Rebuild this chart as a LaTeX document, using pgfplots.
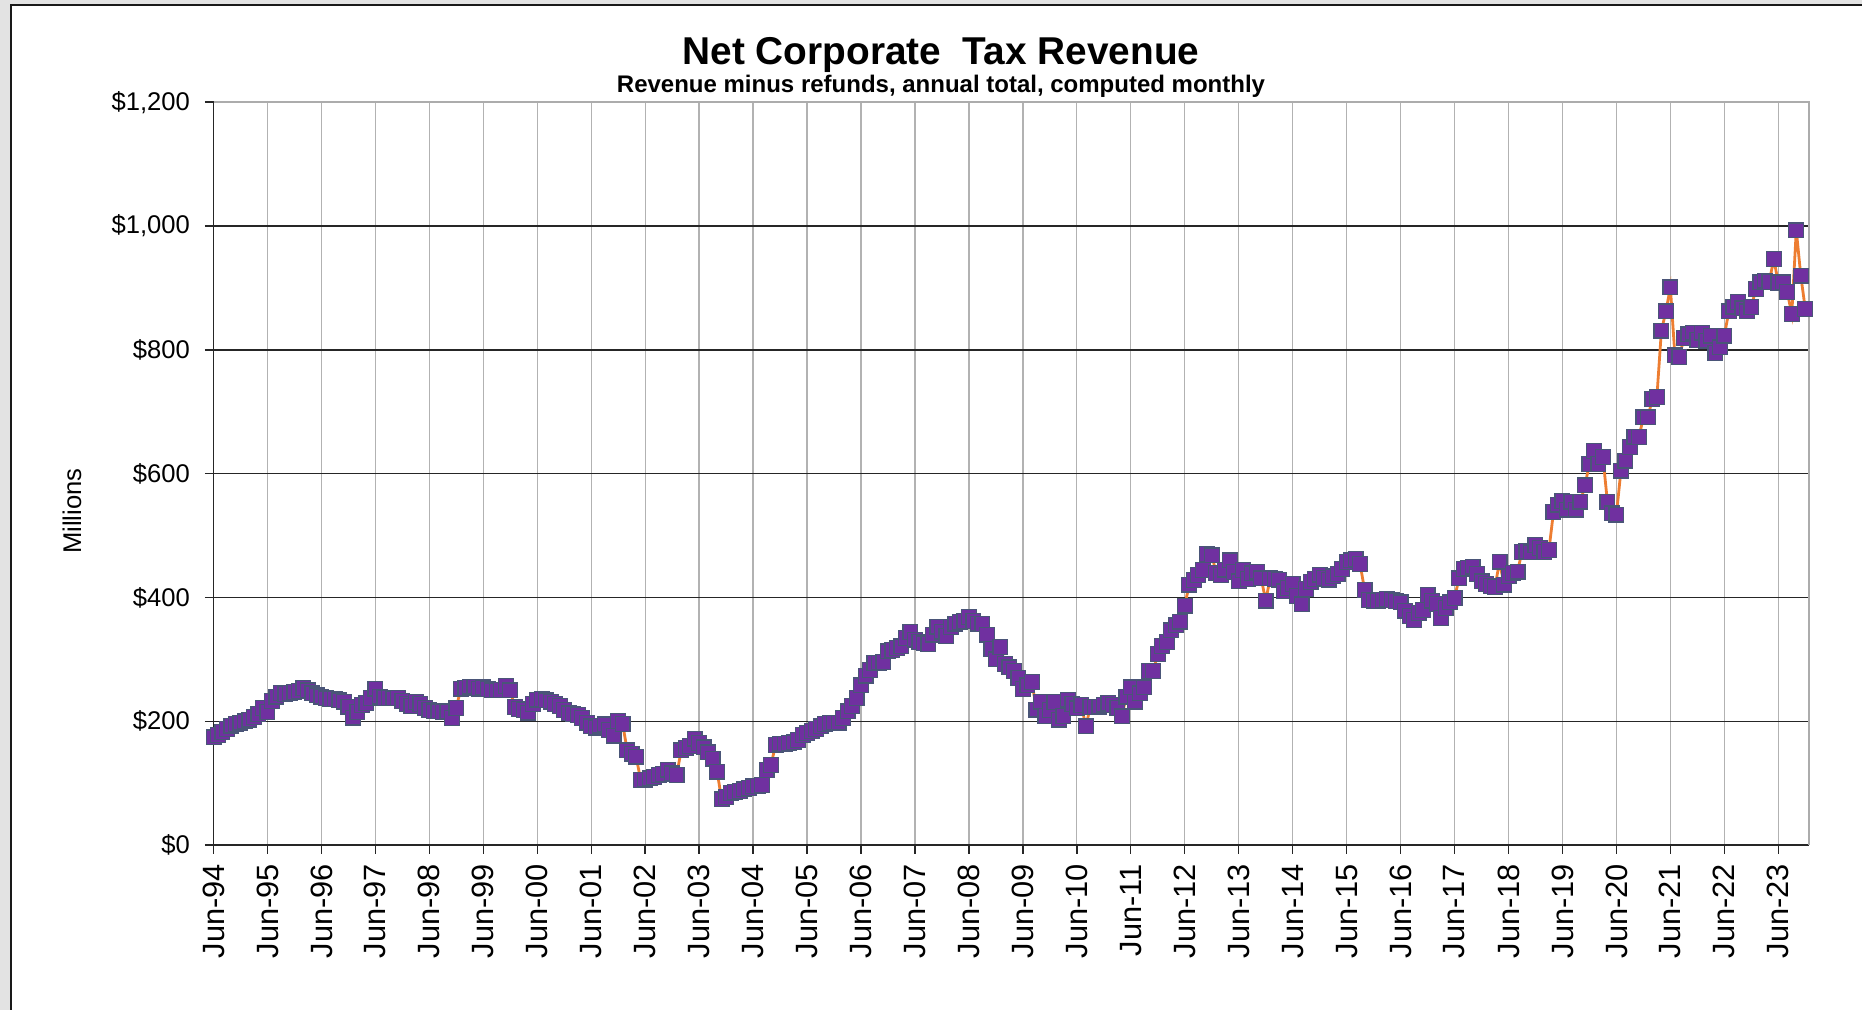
\documentclass[border=0pt]{standalone}
\usepackage{pgfplots}
\pgfplotsset{compat=1.18}
\usepackage{pgfplotstable}
\usepackage{fontspec}
\setmainfont{Liberation Sans}
\definecolor{mpurple}{HTML}{7030A0}
\definecolor{medge}{HTML}{4A5578}
\definecolor{morange}{HTML}{ED7D31}

\pgfplotstableread[row sep=\\]{
m v \\
0 174 \\ 1 178 \\ 2 183 \\ 3 188 \\ 4 193 \\ 5 196 \\ 6 198 \\ 7 200 \\ 8 203 \\ 9 207 \\ 10 212 \\ 11 222 \\
12 215 \\ 13 233 \\ 14 240 \\ 15 246 \\ 16 244 \\ 17 246 \\ 18 247 \\ 19 249 \\ 20 254 \\ 21 250 \\ 22 245 \\ 23 242 \\
24 240 \\ 25 237 \\ 26 236 \\ 27 236 \\ 28 234 \\ 29 232 \\ 30 224 \\ 31 206 \\ 32 215 \\ 33 226 \\ 34 230 \\ 35 238 \\
36 253 \\ 37 240 \\ 38 238 \\ 39 238 \\ 40 237 \\ 41 238 \\ 42 233 \\ 43 228 \\ 44 225 \\ 45 231 \\ 46 228 \\ 47 222 \\
48 218 \\ 49 216 \\ 50 216 \\ 51 215 \\ 52 216 \\ 53 205 \\ 54 222 \\ 55 253 \\ 56 254 \\ 57 256 \\ 58 256 \\ 59 253 \\
60 255 \\ 61 252 \\ 62 250 \\ 63 250 \\ 64 251 \\ 65 257 \\ 66 250 \\ 67 223 \\ 68 220 \\ 69 218 \\ 70 214 \\ 71 228 \\
72 235 \\ 73 236 \\ 74 234 \\ 75 232 \\ 76 228 \\ 77 225 \\ 78 218 \\ 79 213 \\ 80 212 \\ 81 210 \\ 82 205 \\ 83 198 \\
84 192 \\ 85 190 \\ 86 193 \\ 87 195 \\ 88 186 \\ 89 177 \\ 90 201 \\ 91 196 \\ 92 153 \\ 93 148 \\ 94 143 \\ 95 105 \\
96 106 \\ 97 108 \\ 98 110 \\ 99 113 \\ 100 115 \\ 101 122 \\ 102 116 \\ 103 113 \\ 104 153 \\ 105 157 \\ 106 160 \\ 107 172 \\
108 165 \\ 109 158 \\ 110 150 \\ 111 140 \\ 112 119 \\ 113 74 \\ 114 78 \\ 115 84 \\ 116 86 \\ 117 88 \\ 118 90 \\ 119 92 \\
120 95 \\ 121 96 \\ 122 97 \\ 123 121 \\ 124 130 \\ 125 162 \\ 126 164 \\ 127 163 \\ 128 165 \\ 129 166 \\ 130 170 \\ 131 178 \\
132 181 \\ 133 184 \\ 134 188 \\ 135 192 \\ 136 196 \\ 137 197 \\ 138 198 \\ 139 198 \\ 140 205 \\ 141 216 \\ 142 225 \\ 143 238 \\
144 258 \\ 145 274 \\ 146 283 \\ 147 294 \\ 148 295 \\ 149 296 \\ 150 313 \\ 151 315 \\ 152 318 \\ 153 321 \\ 154 335 \\ 155 344 \\
156 332 \\ 157 328 \\ 158 326 \\ 159 325 \\ 160 340 \\ 161 353 \\ 162 345 \\ 163 338 \\ 164 352 \\ 165 358 \\ 166 360 \\ 167 362 \\
168 369 \\ 169 362 \\ 170 358 \\ 171 357 \\ 172 340 \\ 173 317 \\ 174 300 \\ 175 320 \\ 176 293 \\ 177 287 \\ 178 281 \\ 179 270 \\
180 252 \\ 181 258 \\ 182 264 \\ 183 219 \\ 184 232 \\ 185 209 \\ 186 218 \\ 187 231 \\ 188 203 \\ 189 209 \\ 190 235 \\ 191 228 \\
192 221 \\ 193 226 \\ 194 192 \\ 195 223 \\ 196 223 \\ 197 224 \\ 198 227 \\ 199 230 \\ 200 226 \\ 201 222 \\ 202 208 \\ 203 240 \\
204 255 \\ 205 232 \\ 206 245 \\ 207 255 \\ 208 281 \\ 209 281 \\ 210 309 \\ 211 322 \\ 212 328 \\ 213 347 \\ 214 355 \\ 215 361 \\
216 387 \\ 217 421 \\ 218 428 \\ 219 436 \\ 220 444 \\ 221 470 \\ 222 468 \\ 223 440 \\ 224 436 \\ 225 445 \\ 226 460 \\ 227 441 \\
228 426 \\ 229 444 \\ 230 430 \\ 231 439 \\ 232 442 \\ 233 431 \\ 234 395 \\ 235 431 \\ 236 430 \\ 237 429 \\ 238 410 \\ 239 415 \\
240 422 \\ 241 402 \\ 242 389 \\ 243 414 \\ 244 425 \\ 245 430 \\ 246 437 \\ 247 432 \\ 248 429 \\ 249 434 \\ 250 438 \\ 251 446 \\
252 457 \\ 253 460 \\ 254 462 \\ 255 454 \\ 256 412 \\ 257 396 \\ 258 395 \\ 259 394 \\ 260 396 \\ 261 398 \\ 262 396 \\ 263 394 \\
264 392 \\ 265 379 \\ 266 370 \\ 267 364 \\ 268 375 \\ 269 380 \\ 270 404 \\ 271 395 \\ 272 390 \\ 273 367 \\ 274 383 \\ 275 392 \\
276 399 \\ 277 431 \\ 278 446 \\ 279 448 \\ 280 450 \\ 281 438 \\ 282 426 \\ 283 422 \\ 284 419 \\ 285 417 \\ 286 458 \\ 287 421 \\
288 434 \\ 289 440 \\ 290 442 \\ 291 474 \\ 292 475 \\ 293 473 \\ 294 485 \\ 295 480 \\ 296 474 \\ 297 477 \\ 298 538 \\ 299 550 \\
300 556 \\ 301 542 \\ 302 555 \\ 303 542 \\ 304 555 \\ 305 581 \\ 306 616 \\ 307 637 \\ 308 616 \\ 309 627 \\ 310 554 \\ 311 536 \\
312 534 \\ 313 605 \\ 314 621 \\ 315 643 \\ 316 660 \\ 317 659 \\ 318 691 \\ 319 691 \\ 320 721 \\ 321 724 \\ 322 831 \\ 323 862 \\
324 901 \\ 325 791 \\ 326 788 \\ 327 819 \\ 328 825 \\ 329 828 \\ 330 816 \\ 331 828 \\ 332 815 \\ 333 823 \\ 334 795 \\ 335 804 \\
336 823 \\ 337 862 \\ 338 870 \\ 339 877 \\ 340 867 \\ 341 862 \\ 342 869 \\ 343 898 \\ 344 909 \\ 345 912 \\ 346 910 \\ 347 947 \\
348 908 \\ 349 909 \\ 350 893 \\ 351 858 \\ 352 993 \\ 353 920 \\ 354 866 \\
}\datatable

\begin{document}
\begin{tikzpicture}
\fill[gray!22] (0,0) rectangle (931pt,505pt);
\fill[white] (5.4pt,0) rectangle (931pt,502.35pt);
\draw[black!90, line width=0.8pt] (5.4pt,0) -- (5.4pt,502.35pt) -- (931pt,502.35pt);
\begin{axis}[
  at={(106.75pt,82.4pt)}, anchor=south west,
  scale only axis, width=797.9pt, height=371.5pt,
  xmin=0, xmax=354.9, ymin=0, ymax=1200,
  clip=false,
  axis lines*=left,
  axis line style={-, black!85, line width=0.8pt},
  xtick={0,12,...,348},
  xticklabels={Jun-94,Jun-95,Jun-96,Jun-97,Jun-98,Jun-99,Jun-00,Jun-01,Jun-02,Jun-03,Jun-04,Jun-05,Jun-06,Jun-07,Jun-08,Jun-09,Jun-10,Jun-11,Jun-12,Jun-13,Jun-14,Jun-15,Jun-16,Jun-17,Jun-18,Jun-19,Jun-20,Jun-21,Jun-22,Jun-23},
  ytick={0,200,...,1200},
  yticklabels={\$0,\$200,\$400,\$600,\$800,{\$1,000},{\$1,200}},
  tick align=outside,
  major tick length=4.3pt,
  tick style={black!85, line width=0.7pt},
  xmajorgrids, ymajorgrids,
  x grid style={gray!60, line width=0.65pt},
  y grid style={black!85, line width=0.65pt},
  xticklabel style={rotate=90, anchor=east, inner sep=0pt, font=\fontsize{15.4}{18}\selectfont},
  yticklabel style={anchor=east, inner sep=0pt, font=\fontsize{12.8}{15}\selectfont},
  xticklabel shift=5pt,
  yticklabel shift=7.3pt,
]
\draw[gray!65, line width=1pt] (rel axis cs:0,1) -- (rel axis cs:1,1) -- (rel axis cs:1,0);
\addplot[morange, line width=1.4pt, mark=square*, mark size=3.7pt,
  mark options={fill=mpurple, draw=medge, line width=0.6pt, solid}]
  table[x=m, y=v] {\datatable};
\end{axis}
\node[anchor=base, font=\bfseries\fontsize{19.4}{22}\selectfont] at (470.5pt,472.9pt) {Net Corporate\ \ Tax Revenue};
\node[anchor=base, font=\bfseries\fontsize{12}{14}\selectfont] at (470.5pt,458.7pt) {Revenue minus refunds, annual total, computed monthly};
\node[rotate=90, font=\fontsize{12.8}{15}\selectfont] at (36pt,249.4pt) {Millions};
\pgfresetboundingbox
\useasboundingbox (0,0) rectangle (931pt,505pt);
\end{tikzpicture}
\end{document}
